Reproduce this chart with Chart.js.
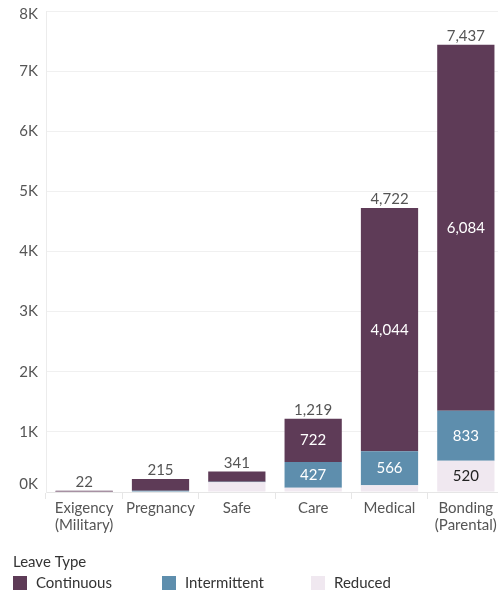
<!DOCTYPE html>
<html>
<head>
<meta charset="utf-8">
<script src="https://cdn.jsdelivr.net/npm/chart.js@4/dist/chart.umd.min.js"></script>
<style>
  html, body { margin: 0; padding: 0; background: #fff; overflow: hidden; }
  #wrap { width: 498px; height: 590px; position: relative; overflow: hidden; }
</style>
</head>
<body>
<div id="wrap"><canvas id="c" width="504" height="590"></canvas></div>
<script>
const categories = [["Exigency", "(Military)"], "Pregnancy", "Safe", "Care", "Medical", ["Bonding", "(Parental)"]];
const continuous = [20, 195, 170, 722, 4044, 6084];
const intermittent = [0, 12, 8, 427, 566, 833];
const reduced = [2, 8, 163, 70, 112, 520];
const totals = [22, 215, 341, 1219, 4722, 7437];
const yTicks = [0, 1000, 2000, 3000, 4000, 5000, 6000, 7000, 8000];
const legendTitle = "Leave Type";
const legendItems = ["Continuous", "Intermittent", "Reduced"];

const FONT = "Lato, 'Open Sans', sans-serif";
const COL_CONT = "#5e3b57";
const COL_INT = "#5e8ead";
const COL_RED = "#f0e8f0";
const legendColors = [COL_CONT, COL_INT, COL_RED];
const legendX = [13, 162, 311];

const labelPlugin = {
  id: "segLabels",
  afterDatasetsDraw(chart) {
    const ctx = chart.ctx;
    ctx.save();
    ctx.font = "15px " + FONT;
    ctx.textAlign = "center";
    chart.data.datasets.forEach((ds, di) => {
      const meta = chart.getDatasetMeta(di);
      meta.data.forEach((bar, i) => {
        const v = ds.data[i];
        if (v >= 400) {
          ctx.fillStyle = ds.labelColor;
          ctx.textBaseline = "middle";
          ctx.fillText(v.toLocaleString("en-US"), bar.x, (bar.y + bar.base) / 2);
        }
      });
    });
    const topMeta = chart.getDatasetMeta(chart.data.datasets.length - 1);
    topMeta.data.forEach((bar, i) => {
      ctx.fillStyle = "#555";
      ctx.textBaseline = "bottom";
      ctx.fillText(totals[i].toLocaleString("en-US"), bar.x, bar.y - 1);
    });
    ctx.restore();
  },
  afterDraw(chart) {
    const ctx = chart.ctx;
    ctx.save();
    ctx.font = "15px " + FONT;
    const ys = chart.scales.y;
    ctx.textAlign = "right";
    ctx.textBaseline = "middle";
    ctx.fillStyle = "#555";
    yTicks.forEach(v => {
      let y = ys.getPixelForValue(v);
      if (v === yTicks[0]) y -= 8;
      if (v === yTicks[yTicks.length - 1]) y += 3;
      ctx.fillText((v / 1000) + "K", 38, y);
    });
    ctx.textAlign = "left";
    ctx.fillStyle = "#333";
    ctx.fillText(legendTitle, 13, 562);
    legendItems.forEach((t, i) => {
      ctx.fillStyle = legendColors[i];
      ctx.fillRect(legendX[i], 576, 14, 14);
      ctx.fillStyle = "#333";
      ctx.fillText(t, legendX[i] + 23, 583);
    });
    ctx.restore();
  }
};

new Chart(document.getElementById("c"), {
  type: "bar",
  data: {
    labels: categories,
    datasets: [
      { label: "Reduced", data: reduced, backgroundColor: COL_RED, labelColor: "#222" },
      { label: "Intermittent", data: intermittent, backgroundColor: COL_INT, labelColor: "#fff" },
      { label: "Continuous", data: continuous, backgroundColor: COL_CONT, labelColor: "#fff" }
    ]
  },
  options: {
    responsive: false,
    animation: false,
    devicePixelRatio: 1,
    layout: { padding: { top: 11, right: 0, left: 0, bottom: 56 } },
    datasets: { bar: { barPercentage: 0.75, categoryPercentage: 1.0 } },
    scales: {
      x: {
        stacked: true,
        grid: { display: true, drawOnChartArea: false, offset: true, color: "#e6e6e6", tickLength: 7 },
        border: { display: true, color: "#e6e6e6" },
        ticks: { color: "#555", font: { family: FONT, size: 15, lineHeight: 1.1 }, padding: 1, maxRotation: 0, autoSkip: false }
      },
      y: {
        stacked: true,
        min: 0, max: 8000,
        afterBuildTicks(axis) { axis.ticks = yTicks.map(v => ({ value: v })); },
        afterFit(axis) { axis.width = 46; },
        grid: { color: "#f0f0f0", drawTicks: false },
        border: { display: true, color: "#ececec" },
        ticks: { display: false }
      }
    },
    plugins: {
      tooltip: { enabled: false },
      legend: { display: false }
    }
  },
  plugins: [labelPlugin]
});
</script>
</body>
</html>
